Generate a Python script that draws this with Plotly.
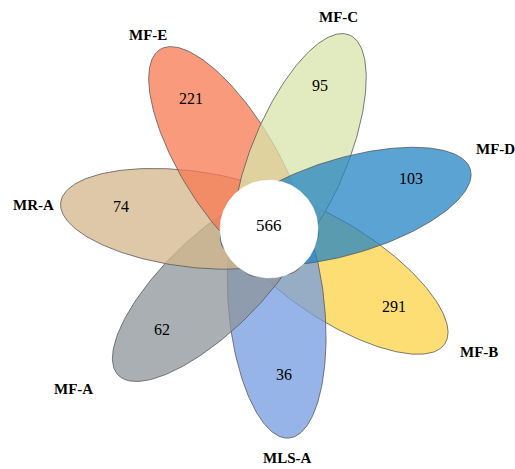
import numpy as np
import plotly.graph_objects as go

# Sets drawn clockwise, each petal laid over the previous one
sets = ["MF-B", "MLS-A", "MF-A", "MR-A", "MF-E", "MF-C", "MF-D"]
unique_counts = [291, 36, 62, 74, 221, 95, 103]
core_count = 566
fill_colors = ["rgba(252,211,71,0.75)", "rgba(116,155,224,0.75)",
               "rgba(140,148,154,0.75)", "rgba(212,182,138,0.75)",
               "rgba(247,120,80,0.75)", "rgba(215,228,170,0.75)",
               "rgba(36,132,195,0.75)"]
# petal direction (degrees, counter-clockwise from east)
angles = [-33.1, -84.5, 224.1, 172.7, 121.2, 67.5, 16.5]
# label / count anchor points in pixel space
label_xy = [(479, 352), (287, 458), (73, 389), (33, 205), (148, 35), (338, 17), (495, 149)]
count_xy = [(394, 306), (284, 374), (162, 329), (121, 206), (191, 98), (320, 85), (411, 178)]

W, H = 515, 469
cx, cy = 269, 229
offset, semi_a, semi_b = 80, 130, 48
core_r = 49

fig = go.Figure()
t = np.linspace(0, 2 * np.pi, 241)
for name, col, ang in zip(sets, fill_colors, angles):
    th = np.deg2rad(ang)
    ex = cx + offset * np.cos(th)
    ey = cy - offset * np.sin(th)
    px = ex + semi_a * np.cos(t) * np.cos(th) - semi_b * np.sin(t) * np.sin(th)
    py = ey - (semi_a * np.cos(t) * np.sin(th) + semi_b * np.sin(t) * np.cos(th))
    fig.add_trace(go.Scatter(x=px, y=py, mode="lines", fill="toself",
                             fillcolor=col, line=dict(color="rgba(90,90,90,0.8)", width=1),
                             hoverinfo="skip", showlegend=False, name=name))

# shared core
fig.add_trace(go.Scatter(x=cx + core_r * np.cos(t), y=cy + core_r * np.sin(t),
                         mode="lines", fill="toself", fillcolor="white",
                         line=dict(color="white", width=0.5), hoverinfo="skip",
                         showlegend=False))

serif = "Liberation Serif"
for name, (lx, ly) in zip(sets, label_xy):
    fig.add_annotation(x=lx, y=ly, text=f"<b>{name}</b>", showarrow=False,
                       font=dict(family=serif, size=15, color="black"))
for n, (nx, ny) in zip(unique_counts, count_xy):
    fig.add_annotation(x=nx, y=ny, text=str(n), showarrow=False,
                       font=dict(family=serif, size=16, color="black"))
fig.add_annotation(x=cx, y=225, text=str(core_count), showarrow=False,
                   font=dict(family=serif, size=17, color="black"))

fig.update_layout(width=W, height=H, margin=dict(l=0, r=0, t=0, b=0),
                  paper_bgcolor="white", plot_bgcolor="white",
                  xaxis=dict(range=[0, W], visible=False, fixedrange=True),
                  yaxis=dict(range=[H, 0], visible=False, fixedrange=True))
fig.write_html("out.html")
